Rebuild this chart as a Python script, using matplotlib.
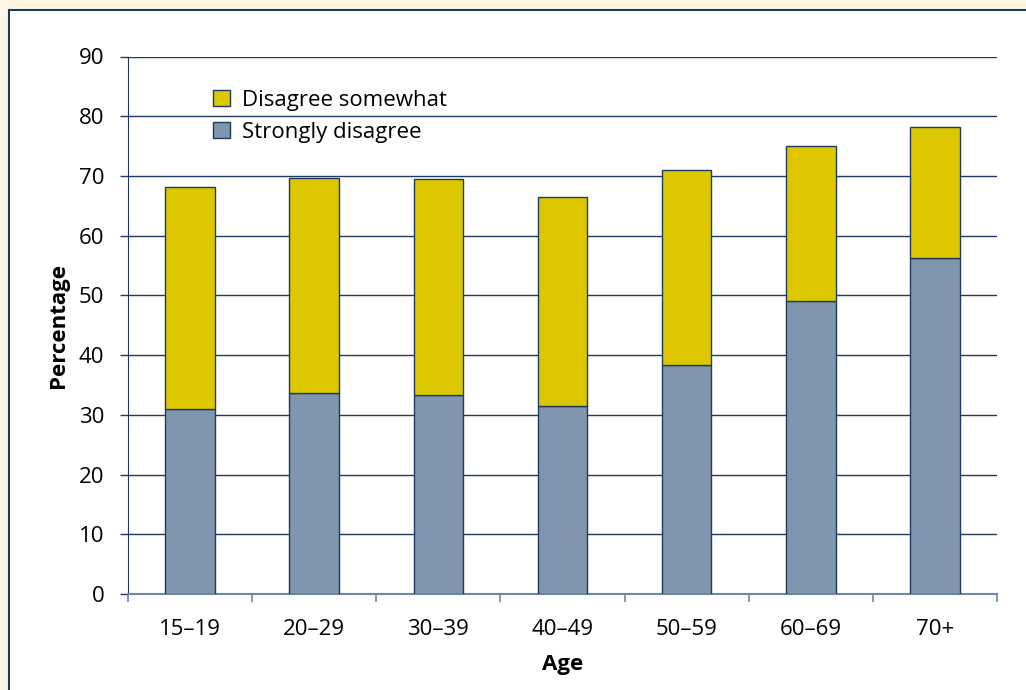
import matplotlib.pyplot as plt
from matplotlib.patches import Rectangle, Patch
import numpy as np

# ── Data ──
ages = ["15\u201319", "20\u201329", "30\u201339", "40\u201349", "50\u201359", "60\u201369", "70+"]
strongly = [31.0, 33.7, 33.3, 31.4, 38.4, 49.1, 56.3]
total = [68.1, 69.6, 69.5, 66.4, 71.0, 75.0, 78.2]
somewhat = [t - s for t, s in zip(total, strongly)]
yticks = [0, 10, 20, 30, 40, 50, 60, 70, 80, 90]

# ── Colours ──
NAVY = "#1F3A5F"
SPINE = "#7088A8"
YELLOW = "#DDC800"
GREYBLUE = "#8095AE"
CREAM = "#FBF7E4"
FS = 16

plt.rcParams["font.family"] = ["Open Sans", "DejaVu Sans"]

fig = plt.figure(figsize=(10.26, 6.9), dpi=100, facecolor=CREAM)

# white panel with navy border, running off the right and bottom edges
fig.patches.append(Rectangle((9 / 1026, -0.05), 1.2, 1 - 10 / 690 + 0.05,
                             transform=fig.transFigure, facecolor="white",
                             edgecolor=NAVY, linewidth=1.5, zorder=-5))

ax = fig.add_axes([128 / 1026, 1 - 594 / 690, 869 / 1026, (594 - 56.5) / 690])
ax.set_facecolor("none")

x = np.arange(len(ages))
ax.bar(x, strongly, width=0.4, color=GREYBLUE, edgecolor=NAVY, linewidth=1.0,
       zorder=3, label="Strongly disagree")
ax.bar(x, somewhat, bottom=strongly, width=0.4, color=YELLOW, edgecolor=NAVY,
       linewidth=1.0, zorder=3, label="Disagree somewhat")

ax.set_xlim(-0.5, len(ages) - 0.5)
ax.set_ylim(0, 90)
ax.set_yticks(yticks)
ax.set_yticklabels([str(v) for v in yticks], fontsize=FS)
ax.yaxis.grid(True, color=NAVY, linewidth=1.0, zorder=1)
ax.set_axisbelow(True)

# category labels centred, ticks at the boundaries
ax.set_xticks(x)
ax.set_xticklabels(ages, fontsize=FS)
ax.set_xticks(np.arange(len(ages) + 1) - 0.5, minor=True)
ax.tick_params(axis="x", which="major", length=0, pad=18)
ax.tick_params(axis="x", which="minor", length=6, color=SPINE, width=1.2)
ax.tick_params(axis="y", length=6, color=NAVY, width=1.0, pad=11)

for side in ["top", "right"]:
    ax.spines[side].set_visible(False)
ax.spines["left"].set_color(NAVY)
ax.spines["bottom"].set_color(SPINE)
ax.spines["bottom"].set_linewidth(1.5)

ax.set_xlabel("Age", fontsize=FS, fontweight="bold", labelpad=10)
ax.set_ylabel("Percentage", fontsize=FS, fontweight="bold", labelpad=7)

handles = [Patch(facecolor=YELLOW, edgecolor=NAVY, label="Disagree somewhat"),
           Patch(facecolor=GREYBLUE, edgecolor=NAVY, label="Strongly disagree")]
ax.legend(handles=handles, loc="upper left", bbox_to_anchor=(0.088, 0.955),
          frameon=False, fontsize=FS, handlelength=0.75, handleheight=0.75,
          handletextpad=0.55, labelspacing=0.5, borderaxespad=0)

fig.savefig("out.png", dpi=100, facecolor=CREAM)
